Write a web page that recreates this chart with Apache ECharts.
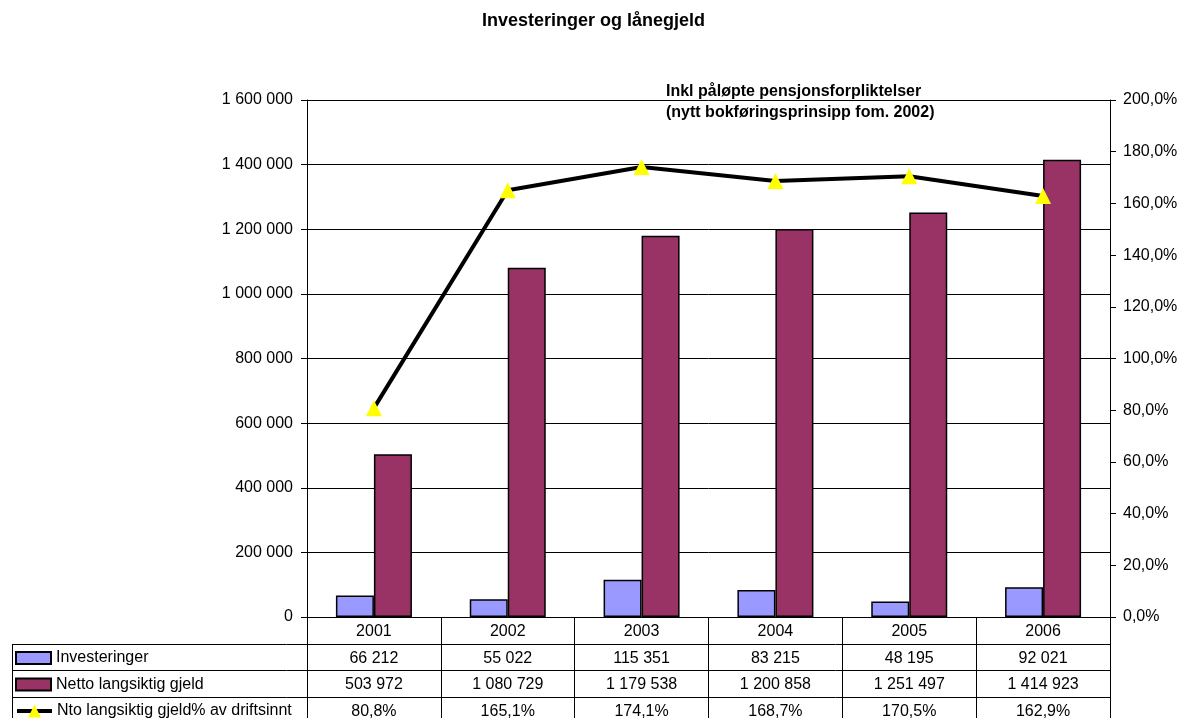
<!doctype html>
<html lang="no">
<head>
<meta charset="UTF-8">
<title>Investeringer og lånegjeld</title>
<script src="https://cdn.jsdelivr.net/npm/echarts@6/dist/echarts.min.js"></script>
<style>
    html, body { margin: 0; padding: 0; background: #fff; }
    #chart { width: 1187px; height: 718px; }
</style>
</head>
<body>
<div id="chart"></div>
<script>
/* data */
const years = ['2001', '2002', '2003', '2004', '2005', '2006'];
const investeringer = [66212, 55022, 115351, 83215, 48195, 92021];
const nettoGjeld = [503972, 1080729, 1179538, 1200858, 1251497, 1414923];
const gjeldProsent = [80.8, 165.1, 174.1, 168.7, 170.5, 162.9];
const seriesNames = ['Investeringer', 'Netto langsiktig gjeld', 'Nto langsiktig gjeld% av driftsinnt'];

/* layout */
const FONT = 'Liberation Sans, Arial, sans-serif';
const gridLeft = 307, gridRight = 1110, gridTop = 100, gridBottom = 617;
const rowH = 26.5;
const tableLeft = 12;

/* formatters */
function fmtNum(v) {
    return String(v).replace(/\B(?=(\d{3})+(?!\d))/g, ' ');
}
function fmtPct(v) {
    return v.toFixed(1).replace('.', ',') + '%';
}

let chart = echarts.init(document.getElementById('chart'));

/* table lines (rows) */
let tableLines = [];
for (let i = 1; i <= 3; i++) {
    let y = Math.round(gridBottom + rowH * i) + 0.5;
    tableLines.push({
        type: 'line',
        shape: { x1: tableLeft, y1: y, x2: gridRight, y2: y },
        style: { stroke: '#000', lineWidth: 1 }
    });
}
tableLines.push({
    type: 'line',
    shape: { x1: tableLeft + 0.5, y1: Math.round(gridBottom + rowH), x2: tableLeft + 0.5, y2: 718 },
    style: { stroke: '#000', lineWidth: 1 }
});

/* legend keys: one per table row */
let legendItems = [
    { name: seriesNames[0], icon: 'rect', itemStyle: { borderWidth: 2, borderColor: '#000' } },
    { name: seriesNames[1], icon: 'rect', itemStyle: { borderWidth: 2, borderColor: '#000' } },
    { name: seriesNames[2], lineStyle: { width: 4, color: '#000' } }
];
let legends = legendItems.map(function (item, i) {
    return {
        left: 15,
        top: 650 + rowH * i,
        padding: 0,
        itemWidth: 35,
        itemHeight: i === 2 ? 16 : 12,
        selectedMode: false,
        textStyle: { fontSize: 16, color: '#000', lineHeight: 16, fontFamily: FONT },
        data: [item]
    };
});

let option = {
    animation: false,
    textStyle: { fontFamily: FONT },
    title: [{
        text: 'Investeringer og lånegjeld',
        left: 'center',
        top: 12,
        padding: 0,
        textStyle: { fontSize: 18, fontWeight: 'bold', color: '#000', fontFamily: FONT }
    }, {
        text: 'Inkl påløpte pensjonsforpliktelser\n(nytt bokføringsprinsipp fom. 2002)',
        left: 666,
        top: 81,
        padding: 0,
        textStyle: { fontSize: 16, fontWeight: 'bold', color: '#000', lineHeight: 21, fontFamily: FONT }
    }],
    legend: legends,
    grid: {
        left: gridLeft,
        right: 1187 - gridRight,
        top: gridTop,
        bottom: 718 - gridBottom,
        containLabel: false,
        outerBoundsMode: 'none'
    },
    xAxis: {
        type: 'category',
        data: years,
        axisLine: { lineStyle: { color: '#000', width: 1 } },
        axisTick: { show: true, length: 110, interval: 0, lineStyle: { color: '#000', width: 1 } },
        axisLabel: {
            interval: 0,
            margin: 1.5,
            fontSize: 16,
            lineHeight: rowH,
            color: '#000',
            fontFamily: FONT,
            formatter: function (value, idx) {
                return [value, fmtNum(investeringer[idx]), fmtNum(nettoGjeld[idx]), fmtPct(gjeldProsent[idx])].join('\n');
            }
        }
    },
    yAxis: [{
        type: 'value',
        min: 0,
        max: 1600000,
        interval: 200000,
        axisLine: { show: true, lineStyle: { color: '#000', width: 1 } },
        axisTick: { show: true, length: 6, lineStyle: { color: '#000' } },
        axisLabel: { fontSize: 16, color: '#000', margin: 14, fontFamily: FONT, formatter: fmtNum },
        splitLine: { show: true, lineStyle: { color: '#000', width: 1 } }
    }, {
        type: 'value',
        min: 0,
        max: 200,
        interval: 20,
        axisLine: { show: true, lineStyle: { color: '#000', width: 1 } },
        axisTick: { show: true, length: 6, lineStyle: { color: '#000' } },
        axisLabel: { fontSize: 16, color: '#000', margin: 13, fontFamily: FONT, formatter: fmtPct },
        splitLine: { show: false }
    }],
    series: [{
        name: seriesNames[0],
        type: 'bar',
        data: investeringer,
        barWidth: 38,
        barGap: '0%',
        itemStyle: { color: '#9999FF', borderColor: '#000', borderWidth: 1.5 }
    }, {
        name: seriesNames[1],
        type: 'bar',
        data: nettoGjeld,
        barWidth: 38,
        barGap: '0%',
        itemStyle: { color: '#993366', borderColor: '#000', borderWidth: 1.5 }
    }, {
        name: seriesNames[2],
        type: 'line',
        yAxisIndex: 1,
        data: gjeldProsent,
        symbol: 'triangle',
        symbolSize: 16,
        lineStyle: { color: '#000', width: 4 },
        itemStyle: { color: '#FFFF00', borderWidth: 0 },
        z: 5
    }],
    graphic: tableLines
};
chart.setOption(option);

window.addEventListener('resize', chart.resize);
</script>
</body>
</html>
